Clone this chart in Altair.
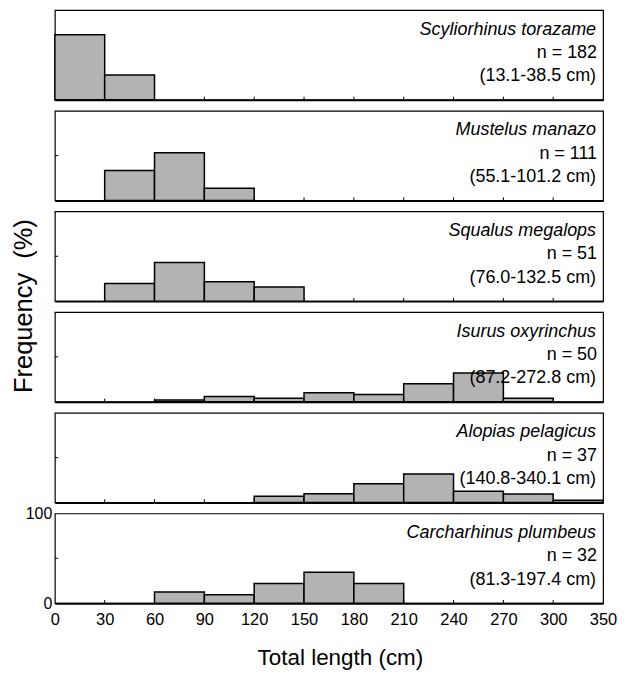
import altair as alt
import pandas as pd

# ---------------- data ----------------
species = ["Scyliorhinus torazame", "Mustelus manazo", "Squalus megalops",
           "Isurus oxyrinchus", "Alopias pelagicus", "Carcharhinus plumbeus"]
n_values = [182, 111, 51, 50, 37, 32]
size_ranges = ["(13.1-38.5 cm)", "(55.1-101.2 cm)", "(76.0-132.5 cm)",
               "(87.2-272.8 cm)", "(140.8-340.1 cm)", "(81.3-197.4 cm)"]

bin_starts = [
    [0, 30],
    [30, 60, 90],
    [30, 60, 90, 120],
    [60, 90, 120, 150, 180, 210, 240, 270],
    [120, 150, 180, 210, 240, 270, 300],
    [60, 90, 120, 150, 180],
]
frequencies = [
    [72.5, 27.5],
    [33.3, 53.2, 13.5],
    [19.6, 43.1, 21.6, 15.7],
    [2, 6, 4, 10, 8, 20, 32, 4],
    [6.8, 9.8, 20.8, 31.7, 12.5, 9.4, 2.5],
    [12.5, 9.4, 21.9, 34.4, 21.9],
]
BIN_WIDTH = 30

x_tick_values = [0, 30, 60, 90, 120, 150, 180, 210, 240, 270, 300, 330]
x_tick_labels = ["0", "30", "60", "90", "120", "150", "180", "210", "240", "270", "300", "350"]
y_tick_values = [0, 100]
y_mid_tick = [50]

x_title = "Total length (cm)"
y_title = "Frequency\u00a0\u00a0(%)"

# ---------------- layout / style ----------------
W, H = 550, 90
SPACING = 11
FONT = "Liberation Sans"
X_TICK_LEN = 3.5   # in % units (inward tick length)
Y_TICK_LEN = 2.0   # in cm units (inward tick length)

x_scale = alt.Scale(domain=[0, 330], nice=False, zero=False)
y_scale = alt.Scale(domain=[0, 100], nice=False)

label_expr = f"datum.value == {x_tick_values[-1]} ? '{x_tick_labels[-1]}' : datum.label"

panels = []
for i, sp in enumerate(species):
    last = i == len(species) - 1
    df = pd.DataFrame({"start": bin_starts[i], "freq": frequencies[i]})
    df["end"] = df["start"] + BIN_WIDTH
    df["base"] = 0

    if last:
        x_axis = alt.Axis(values=x_tick_values, labelExpr=label_expr, ticks=False,
                          domain=True, domainColor="black", domainWidth=2, grid=False,
                          labelFont=FONT, labelFontSize=16.5, labelColor="black",
                          labelPadding=8, labelFlush=False,
                          title=x_title, titleFont=FONT, titleFontSize=22.5,
                          titleFontWeight="normal", titleColor="black", titlePadding=19,
                          titleX=W / 2 + 11)
        y_axis = alt.Axis(values=y_tick_values, ticks=False, domain=False, grid=False,
                          labelFont=FONT, labelFontSize=16, labelColor="black",
                          labelPadding=3, title="")
    else:
        x_axis = alt.Axis(labels=False, ticks=False, domain=True, domainColor="black",
                          domainWidth=2, grid=False, title="")
        y_axis = alt.Axis(labels=False, ticks=False, domain=False, grid=False, title="")

    bars = alt.Chart(df).mark_rect(fill="#b3b3b3", stroke="black", strokeWidth=1.5).encode(
        x=alt.X("start:Q", scale=x_scale, axis=x_axis),
        x2="end:Q",
        y=alt.Y("freq:Q", scale=y_scale, axis=y_axis),
        y2="base:Q",
    )

    xt = pd.DataFrame({"start": x_tick_values[1:-1]})
    xt["freq"] = 0
    xt["top"] = X_TICK_LEN
    xticks = alt.Chart(xt).mark_rule(color="black", strokeWidth=1).encode(
        x=alt.X("start:Q", scale=x_scale, axis=x_axis),
        y=alt.Y("freq:Q", scale=y_scale, axis=y_axis),
        y2="top:Q",
    )
    yt = pd.DataFrame({"freq": y_mid_tick, "start": [0], "end": [Y_TICK_LEN]})
    yticks = alt.Chart(yt).mark_rule(color="black", strokeWidth=1).encode(
        y=alt.Y("freq:Q", scale=y_scale, axis=y_axis),
        x=alt.X("start:Q", scale=x_scale, axis=x_axis),
        x2="end:Q",
    )

    name = alt.Chart(pd.DataFrame({"t": [sp]})).mark_text(
        align="right", baseline="alphabetic", font=FONT, fontSize=18,
        fontStyle="italic", color="black"
    ).encode(text="t:N", x=alt.value(W - 7), y=alt.value(24.5))
    line2 = alt.Chart(pd.DataFrame({"t": [f"n = {n_values[i]}"]})).mark_text(
        align="right", baseline="alphabetic", font=FONT, fontSize=18, color="black"
    ).encode(text="t:N", x=alt.value(W - 6), y=alt.value(48))
    line3 = alt.Chart(pd.DataFrame({"t": [size_ranges[i]]})).mark_text(
        align="right", baseline="alphabetic", font=FONT, fontSize=18, color="black"
    ).encode(text="t:N", x=alt.value(W - 7), y=alt.value(71.5))

    layers = [xticks, yticks, bars, name, line2, line3]
    if i == 2:
        ytitle = alt.Chart(pd.DataFrame({"t": [y_title]})).mark_text(
            angle=270, align="center", baseline="middle", font=FONT, fontSize=25.5,
            color="black"
        ).encode(text="t:N", x=alt.value(-31), y=alt.value(95))
        layers.append(ytitle)

    panels.append(alt.layer(*layers).properties(width=W, height=H))

chart = alt.vconcat(*panels, spacing=SPACING, bounds="flush").properties(
    padding={"left": 3, "top": 0, "right": 0, "bottom": 0},
    background="white",
).configure_view(stroke="black", strokeWidth=1.2)

chart.save("out.html", embed_options={"renderer": "svg", "actions": False})
